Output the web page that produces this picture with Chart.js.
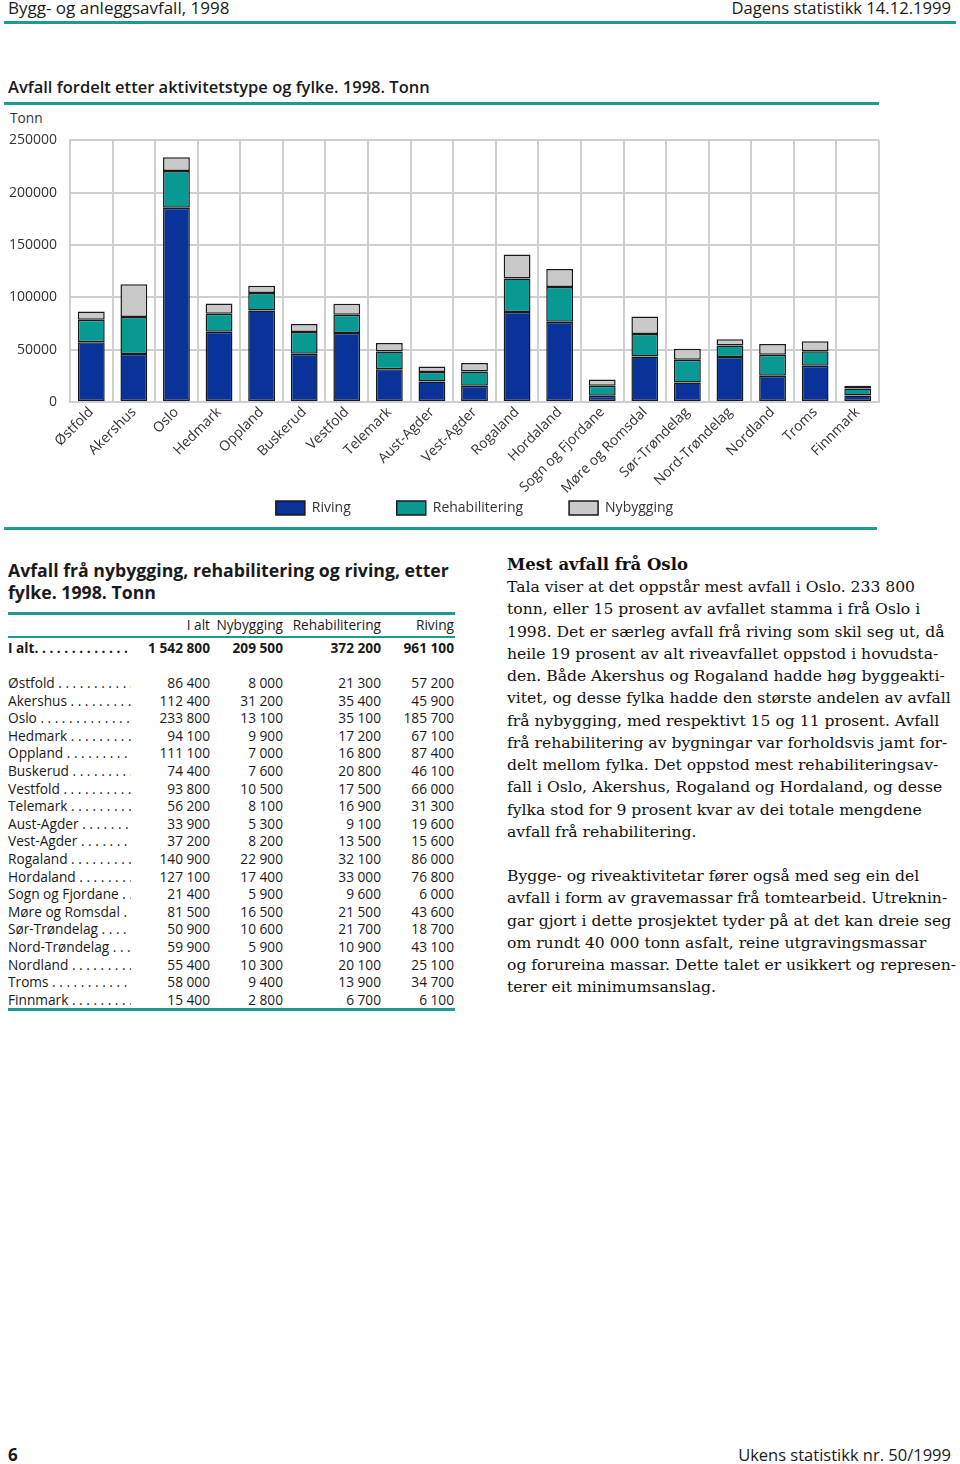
<!DOCTYPE html>
<html>
<head>
<meta charset="utf-8">
<script src="https://cdn.jsdelivr.net/npm/chart.js@4/dist/chart.umd.min.js"></script>
<style>
  html,body{margin:0;padding:0;background:#fff;}
  #page{position:relative;width:960px;height:1464px;overflow:hidden;color:#1a1a1a;font-family:"Open Sans","Noto Sans",sans-serif;}
  .abs{position:absolute;white-space:nowrap;}
  .rule{position:absolute;background:#1f9a8f;}
  .hdr{font-size:16.6px;line-height:20px;}
  .ttl{font-size:16.5px;font-weight:600;line-height:20px;}
  .ttitle{font-size:17.7px;font-weight:700;line-height:22px;}
  .trow{position:absolute;left:0;width:460px;height:18px;font-size:13.7px;line-height:18px;}
  .trow .lab{position:absolute;left:8px;width:123px;overflow:hidden;white-space:nowrap;}
  .trow .n{position:absolute;text-align:right;white-space:nowrap;}
  .serif{font-family:"DejaVu Serif","Liberation Serif",serif;color:#111;}
  .txt{position:absolute;left:507px;font-size:15.6px;line-height:22.27px;white-space:nowrap;}
</style>
</head>
<body>
<div id="page">
  <div class="abs hdr" style="left:8px;top:-2px;font-size:17px;">Bygg- og anleggsavfall, 1998</div>
  <div class="abs hdr" style="right:9px;top:-2px;">Dagens statistikk 14.12.1999</div>
  <div class="rule" style="left:4px;top:21px;width:952px;height:3px;"></div>

  <div class="abs ttl" style="left:8px;top:77px;">Avfall fordelt etter aktivitetstype og fylke. 1998. Tonn</div>
  <div class="rule" style="left:4px;top:102px;width:875px;height:3px;"></div>
  <div class="abs" style="left:10px;top:109px;font-size:13.7px;line-height:18px;color:#333;">Tonn</div>

  <div style="position:absolute;left:0;top:119px;width:890px;height:406px;">
    <canvas id="c" width="890" height="406"></canvas>
  </div>
  <div class="rule" style="left:4px;top:527px;width:873px;height:3px;"></div>

  <div class="abs ttitle" style="left:8px;top:559px;">Avfall frå nybygging, rehabilitering og riving, etter</div>
  <div class="abs ttitle" style="left:8px;top:581px;">fylke. 1998. Tonn</div>
  <div class="rule" style="left:8px;top:612px;width:447px;height:3px;"></div>
  <div id="table"></div>

  <div id="text"></div>

  <div class="abs" style="left:8px;top:1445px;font-size:17px;font-weight:700;line-height:20px;">6</div>
  <div class="abs" style="right:9px;top:1445px;font-size:16.5px;line-height:20px;">Ukens statistikk nr. 50/1999</div>
</div>

<script>
// ---- Data ----
const categories = ['Østfold','Akershus','Oslo','Hedmark','Oppland','Buskerud','Vestfold','Telemark','Aust-Agder','Vest-Agder','Rogaland','Hordaland','Sogn og Fjordane','Møre og Romsdal','Sør-Trøndelag','Nord-Trøndelag','Nordland','Troms','Finnmark'];
const riving         = [57200,45900,185700,67100,87400,46100,66000,31300,19600,15600,86000,76800,6000,43600,18700,43100,25100,34700,6100];
const rehabilitering = [21300,35400,35100,17200,16800,20800,17500,16900,9100,13500,32100,33000,9600,21500,21700,10900,20100,13900,6700];
const nybygging      = [8000,31200,13100,9900,7000,7600,10500,8100,5300,8200,22900,17400,5900,16500,10600,5900,10300,9400,2800];
const ialt           = [86400,112400,233800,94100,111100,74400,93800,56200,33900,37200,140900,127100,21400,81500,50900,59900,55400,58000,15400];
const totals = {ialt:1542800, nybygging:209500, rehabilitering:372200, riving:961100};
const yTicks = [0,50000,100000,150000,200000,250000];
const seriesNames = ['Riving','Rehabilitering','Nybygging'];
const tableHeaders = ['I alt','Nybygging','Rehabilitering','Riving'];

// ---- Chart ----
const sansFont = '"Open Sans","Noto Sans",sans-serif';
// let the rotated category labels extend below the (short) x-axis box without being clipped
const labelRoom = {
  id: 'labelRoom',
  afterLayout(chart) { const s = chart.scales.x; s.bottom = s.top + 100; s.height = 100; }
};
new Chart(document.getElementById('c').getContext('2d'), {
  type: 'bar',
  data: {
    labels: categories,
    datasets: [
      {label: seriesNames[0], data: riving, backgroundColor: '#0a3399', borderColor: '#1a1a1a', borderWidth: 1.5, borderSkipped: false},
      {label: seriesNames[1], data: rehabilitering, backgroundColor: '#089a92', borderColor: '#1a1a1a', borderWidth: 1.5, borderSkipped: false},
      {label: seriesNames[2], data: nybygging, backgroundColor: '#c9c9c9', borderColor: '#1a1a1a', borderWidth: 1.5, borderSkipped: false}
    ]
  },
  plugins: [labelRoom],
  options: {
    responsive: false,
    animation: false,
    categoryPercentage: 0.7,
    barPercentage: 0.9,
    layout: {padding: {top: 0, right: 11, left: 0, bottom: 0}},
    scales: {
      x: {
        stacked: true,
        grid: {color: '#cfcfcf', lineWidth: 2, drawTicks: false},
        border: {color: '#cfcfcf', width: 2},
        ticks: {maxRotation: 45, minRotation: 45, color: '#333', padding: 2, font: {family: sansFont, size: 14}},
        afterFit(s) { s.height = 53; }
      },
      y: {
        stacked: true,
        min: 0, max: 250000,
        afterBuildTicks(s) { s.ticks = yTicks.map(v => ({value: v})); },
        grid: {color: '#cfcfcf', lineWidth: 2, drawTicks: false},
        border: {color: '#cfcfcf', width: 2},
        ticks: {color: '#333', padding: 13, font: {family: sansFont, size: 14}, callback: v => String(v)},
        afterFit(s) { s.width = 70; }
      }
    },
    plugins: {
      legend: {
        position: 'bottom',
        fullSize: false,
        labels: {boxWidth: 29, boxHeight: 14, padding: 46, color: '#333', font: {family: sansFont, size: 14}}
      },
      tooltip: {enabled: false}
    }
  }
});

// ---- Table ----
function fmt(n){ return String(n).replace(/\B(?=(\d{3})+(?!\d))/g, ' '); }
const cols = [{r:210},{r:283},{r:381},{r:454}];
const tbl = document.getElementById('table');
let html = '';
html += '<div class="trow" style="top:616px;">' + tableHeaders.map((h,i)=>'<span class="n" style="right:'+(460-cols[i].r)+'px">'+h+'</span>').join('') + '</div>';
html += '<div class="rule" style="left:8px;top:636px;width:447px;height:2px;"></div>';
const totRow = [totals.ialt, totals.nybygging, totals.rehabilitering, totals.riving];
html += '<div class="trow" style="top:639px;font-weight:700;"><span class="lab">I alt. . . . . . . . . . . . . . . . . . . . .</span>' + totRow.map((v,i)=>'<span class="n" style="right:'+(460-cols[i].r)+'px">'+fmt(v)+'</span>').join('') + '</div>';
categories.forEach((c,k)=>{
  const top = 674 + k*17.6;
  const vals = [ialt[k], nybygging[k], rehabilitering[k], riving[k]];
  html += '<div class="trow" style="top:'+top+'px;"><span class="lab">'+c+' . . . . . . . . . . . . . . . . . . . . .</span>' + vals.map((v,i)=>'<span class="n" style="right:'+(460-cols[i].r)+'px">'+fmt(v)+'</span>').join('') + '</div>';
});
html += '<div class="rule" style="left:8px;top:1008px;width:447px;height:3px;"></div>';
tbl.innerHTML = html;

// ---- Text ----
const heading = 'Mest avfall frå Oslo';
const para1 = ['Tala viser at det oppstår mest avfall i Oslo. 233 800','tonn, eller 15 prosent av avfallet stamma i frå Oslo i','1998. Det er særleg avfall frå riving som skil seg ut, då','heile 19 prosent av alt riveavfallet oppstod i hovudsta-','den. Både Akershus og Rogaland hadde høg byggeakti-','vitet, og desse fylka hadde den største andelen av avfall','frå nybygging, med respektivt 15 og 11 prosent. Avfall','frå rehabilitering av bygningar var forholdsvis jamt for-','delt mellom fylka. Det oppstod mest rehabiliteringsav-','fall i Oslo, Akershus, Rogaland og Hordaland, og desse','fylka stod for 9 prosent kvar av dei totale mengdene','avfall frå rehabilitering.'];
const para2 = ['Bygge- og riveaktivitetar fører også med seg ein del','avfall i form av gravemassar frå tomtearbeid. Utreknin-','gar gjort i dette prosjektet tyder på at det kan dreie seg','om rundt 40 000 tonn asfalt, reine utgravingsmassar','og forureina massar. Dette talet er usikkert og represen-','terer eit minimumsanslag.'];
let t = '<div class="txt serif" style="top:554px;font-weight:700;font-size:16.5px;">'+heading+'</div>';
para1.forEach((l,i)=>{ t += '<div class="txt serif" style="top:'+(576+i*22.27)+'px;">'+l+'</div>'; });
para2.forEach((l,i)=>{ t += '<div class="txt serif" style="top:'+(865+i*22.27)+'px;">'+l+'</div>'; });
document.getElementById('text').innerHTML = t;
</script>
</body>
</html>
